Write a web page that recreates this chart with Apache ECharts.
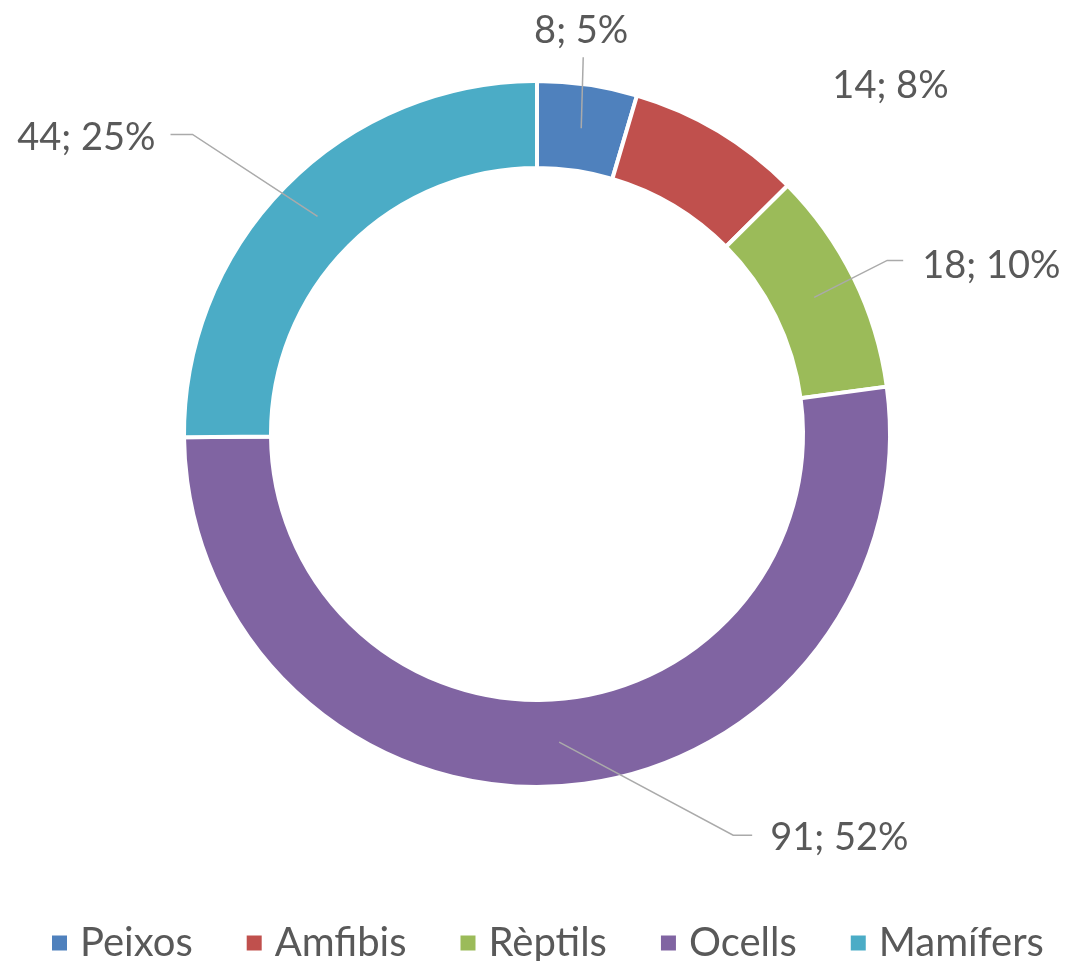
<!DOCTYPE html>
<html lang="ca">
<head>
<meta charset="UTF-8">
<title>Vertebrats</title>
<script src="https://cdn.jsdelivr.net/npm/echarts@6/dist/echarts.min.js"></script>
<style>
    html, body { margin: 0; padding: 0; background: #fff; }
    #chart { width: 1066px; height: 961px; }
</style>
</head>
<body>
<div id="chart"></div>
<script>
var categories = ['Peixos', 'Amfibis', 'Rèptils', 'Ocells', 'Mamífers'];
var values = [8, 14, 18, 91, 44];
var colors = ['#4f81bd', '#c0504d', '#9bbb59', '#8064a2', '#4bacc6'];

// where each label sits, as offsets from the point where its leader line leaves the ring
var labelPlace = [
    {line: [[2, -71]], text: [0, -97], align: 'center'},
    {line: [], text: [195, -83], align: 'center'},
    {line: [[73, -37], [89, -37]], text: [108, -32], align: 'left'},
    {line: [[174, 93], [193, 93]], text: [211, 96], align: 'left'},
    {line: [[-125, -82], [-147, -82]], text: [-162, -79], align: 'right'}
];

var font = 'Lato, Carlito, Calibri, sans-serif';
var center = [537, 434];

var pieData = categories.map(function (name, i) {
    return {name: name, value: values[i], itemStyle: {color: colors[i]}};
});

var chart = echarts.init(document.getElementById('chart'));
chart.setOption({
    animation: false,
    legend: {
        data: categories,
        left: 45,
        top: 917,
        icon: 'rect',
        itemWidth: 17,
        itemHeight: 17,
        itemGap: 52,
        textStyle: {fontFamily: font, fontSize: 40, color: '#595959', lineHeight: 42, padding: [0, 0, 0, 7]}
    },
    series: [
        {
            // the ring itself
            type: 'pie',
            z: 1,
            center: center,
            radius: [266, 353],
            startAngle: 90,
            silent: true,
            label: {show: false},
            labelLine: {show: false},
            itemStyle: {borderColor: '#fff', borderWidth: 4},
            data: pieData
        },
        {
            // invisible pie out to the middle of the ring, carries the data labels
            type: 'pie',
            z: 5,
            center: center,
            radius: [0, 309],
            startAngle: 90,
            silent: true,
            percentPrecision: 0,
            itemStyle: {color: 'rgba(0,0,0,0)'},
            label: {
                show: true,
                position: 'outside',
                formatter: '{c}; {d}%',
                fontFamily: font,
                fontSize: 38,
                color: '#595959'
            },
            labelLine: {show: true, lineStyle: {color: '#aaaaaa', width: 1.5}},
            labelLayout: function (p) {
                var pts = p.labelLinePoints;
                if (!pts) return {};
                var s = pts[0];
                var pl = labelPlace[p.dataIndex];
                var line = [s].concat(pl.line.map(function (d) {
                    return [s[0] + d[0], s[1] + d[1]];
                }));
                if (line.length < 2) line.push([s[0], s[1]]);
                return {
                    x: s[0] + pl.text[0],
                    y: s[1] + pl.text[1],
                    align: pl.align,
                    verticalAlign: 'middle',
                    labelLinePoints: line
                };
            },
            data: categories.map(function (name, i) {
                return {name: name, value: values[i]};
            })
        }
    ]
});
</script>
</body>
</html>
